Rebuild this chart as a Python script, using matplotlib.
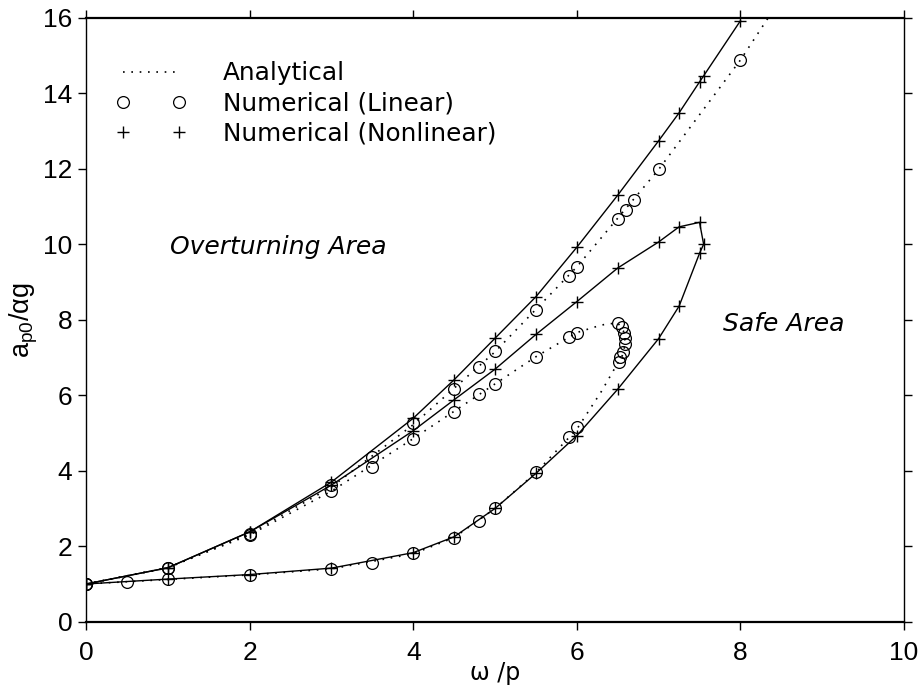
import matplotlib
matplotlib.use("Agg")
import matplotlib.pyplot as plt
from matplotlib.lines import Line2D

plt.rcParams['font.family'] = ['Liberation Sans', 'DejaVu Sans']
plt.rcParams['mathtext.fontset'] = 'custom'
plt.rcParams['mathtext.rm'] = 'DejaVu Sans'
plt.rcParams['mathtext.it'] = 'DejaVu Sans:italic'

# ---- data ----
# Analytical solution (dotted)
x_an_up = [0, 1, 2, 3, 4, 5, 6, 7, 8, 8.34]
y_an_up = [1.0, 1.43, 2.33, 3.57, 5.22, 7.15, 9.40, 11.98, 14.88, 16.0]
x_an_loop = [0, 1, 2, 3, 4, 5, 5.5, 6, 6.3, 6.5, 6.57, 6.59, 6.57, 6.5, 6.3, 6, 5.5, 5, 4.5, 4, 3, 2, 1, 0]
y_an_loop = [1.0, 1.43, 2.30, 3.46, 4.85, 6.30, 7.02, 7.66, 7.86, 7.92, 7.70, 7.40, 7.10, 6.85, 6.10, 5.10, 3.95, 3.0, 2.23, 1.80, 1.40, 1.24, 1.12, 1.0]

# Numerical (Linear) - circles
x_lin_up = [0, 1, 2, 3, 3.5, 4, 4.5, 4.8, 5, 5.5, 5.9, 6, 6.5, 6.6, 6.7, 7, 8]
y_lin_up = [1.0, 1.43, 2.33, 3.62, 4.37, 5.26, 6.16, 6.76, 7.18, 8.26, 9.16, 9.40, 10.66, 10.90, 11.17, 11.98, 14.88]
x_lin_loop = [0, 1, 2, 3, 3.5, 4, 4.5, 4.8, 5, 5.5, 5.9, 6, 6.5, 6.55, 6.58, 6.59, 6.59, 6.57, 6.53, 6.51,
              6, 5.9, 5.5, 5, 4.8, 4.5, 4, 3.5, 3, 2, 1, 0.5, 0]
y_lin_loop = [1.0, 1.43, 2.30, 3.46, 4.11, 4.83, 5.56, 6.02, 6.30, 7.02, 7.55, 7.66, 7.92, 7.82, 7.66, 7.51, 7.37, 7.15, 7.02, 6.89,
              5.17, 4.90, 3.97, 3.0, 2.67, 2.23, 1.81, 1.56, 1.40, 1.24, 1.12, 1.06, 1.0]

# Numerical (Nonlinear) - plus markers, solid line
x_nl_up = [0, 1, 2, 3, 4, 4.5, 5, 5.5, 6, 6.5, 7, 7.25, 7.5, 7.55, 8.0]
y_nl_up = [1.0, 1.43, 2.38, 3.70, 5.39, 6.41, 7.51, 8.61, 9.92, 11.30, 12.74, 13.48, 14.30, 14.46, 15.92]
x_nl_loop = [0, 1, 2, 3, 4, 4.5, 5, 5.5, 6, 6.5, 7, 7.25, 7.5, 7.55, 7.5, 7.25, 7, 6.5, 6, 5.5, 5, 4.5, 4, 3, 2, 1, 0]
y_nl_loop = [1.0, 1.43, 2.38, 3.62, 5.06, 5.88, 6.69, 7.61, 8.48, 9.37, 10.06, 10.46, 10.58, 10.0, 9.76, 8.36, 7.50, 6.16, 4.93, 3.93, 3.0, 2.25, 1.83, 1.42, 1.25, 1.13, 1.0]

xticks = [0, 2, 4, 6, 8, 10]
yticks = [0, 2, 4, 6, 8, 10, 12, 14, 16]

# ---- figure ----
fig = plt.figure(figsize=(9.24, 6.87), dpi=100)
ax = fig.add_axes([0.0931, 0.095, 0.8853, 0.8792])

dot = (0, (1, 4))
for xs, ys in [(x_an_up, y_an_up), (x_an_loop, y_an_loop)]:
    ax.plot(xs, ys, color='black', lw=1.2, linestyle=dot)

for xs, ys in [(x_nl_up, y_nl_up), (x_nl_loop, y_nl_loop)]:
    ax.plot(xs, ys, color='black', lw=1.0, linestyle='-',
            marker='+', markersize=9, markeredgewidth=1.0)

for xs, ys in [(x_lin_up, y_lin_up), (x_lin_loop, y_lin_loop)]:
    ax.plot(xs, ys, linestyle='none', marker='o', markersize=8.5,
            markerfacecolor='none', markeredgecolor='black', markeredgewidth=0.9)

ax.set_xlim(0, 10)
ax.set_ylim(0, 16)
ax.set_xticks(xticks)
ax.set_yticks(yticks)
ax.tick_params(direction='out', length=6, width=1.0, labelsize=19,
               top=True, right=True, labeltop=False, labelright=False)
ax.tick_params(axis='x', pad=8)
ax.tick_params(axis='y', pad=4)
for s in ['left', 'right']:
    ax.spines[s].set_linewidth(1.0)
for s in ['top', 'bottom']:
    ax.spines[s].set_linewidth(1.6)

ax.set_xlabel('ω /p', fontsize=17, family='DejaVu Sans', labelpad=-3)
ax.set_ylabel(r'$\mathregular{a_{p0}/\alpha g}$', fontsize=19.5, labelpad=2)

ax.text(1.03, 9.93, 'Overturning Area', fontsize=18, family='DejaVu Sans', style='italic',
        va='center', ha='left')
ax.text(7.79, 7.9, 'Safe Area', fontsize=18, family='DejaVu Sans', style='italic',
        va='center', ha='left')

handles = [
    Line2D([], [], color='black', lw=1.2, linestyle=dot),
    Line2D([], [], linestyle='none', marker='o', markersize=8.5, markerfacecolor='none',
           markeredgecolor='black', markeredgewidth=0.9),
    Line2D([], [], linestyle='none', marker='+', markersize=9, markeredgecolor='black',
           markeredgewidth=1.0),
]
labels = ['Analytical', 'Numerical (Linear)', 'Numerical (Nonlinear)']
ax.legend(handles, labels, loc='upper left', bbox_to_anchor=(0.0236, 0.944), frameon=False,
          prop={'family': 'DejaVu Sans', 'size': 17.8}, numpoints=2, handlelength=2.9,
          handletextpad=1.44, labelspacing=0.24, borderaxespad=0.0)

fig.savefig('out.png', dpi=100)
